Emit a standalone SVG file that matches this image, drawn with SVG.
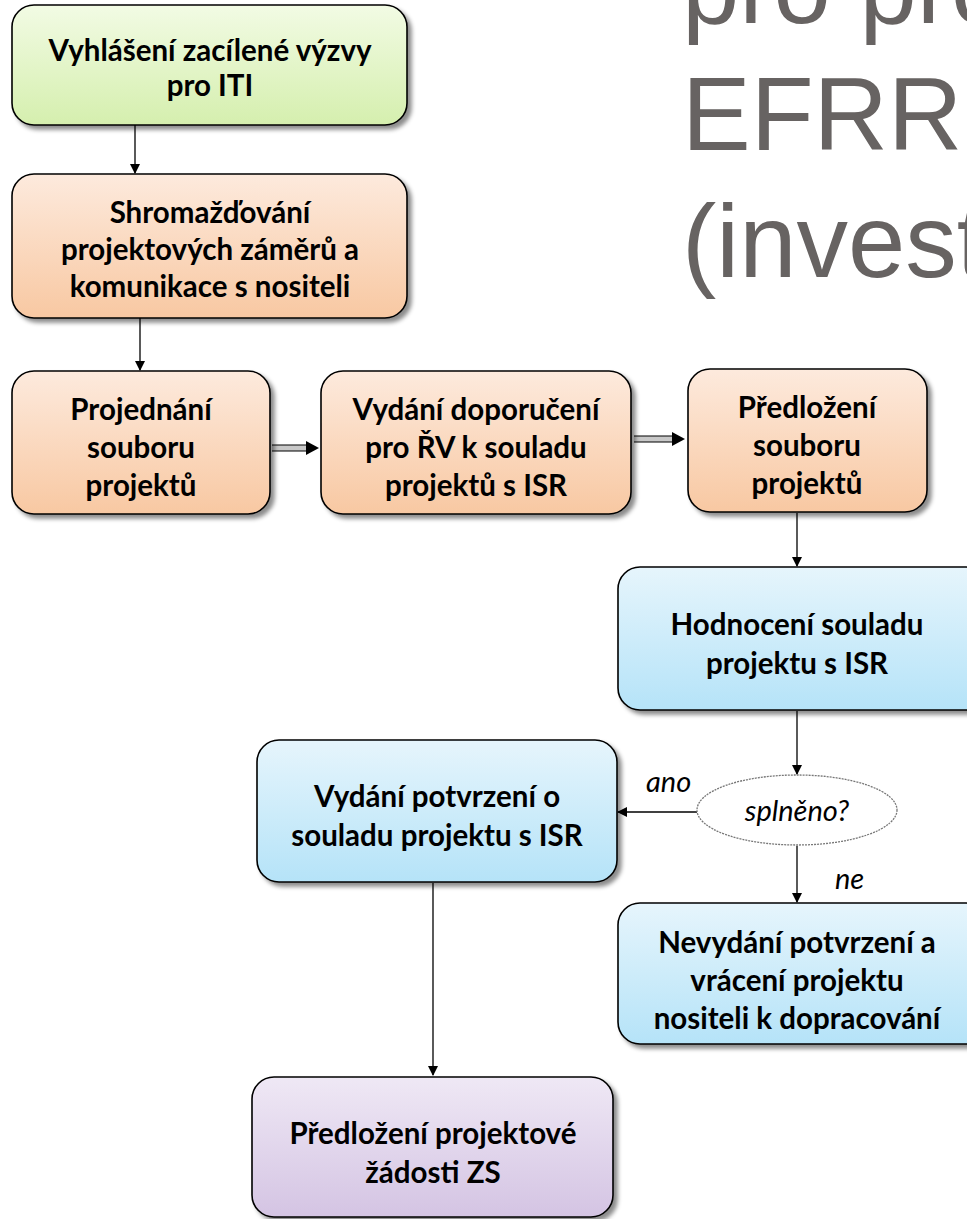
<svg xmlns="http://www.w3.org/2000/svg" width="967" height="1219" viewBox="0 0 967 1219">
<defs>
<linearGradient id="gG" x1="0" y1="0" x2="0" y2="1"><stop offset="0" stop-color="#f2fbe4"/><stop offset="1" stop-color="#d5efae"/></linearGradient>
<linearGradient id="gO" x1="0" y1="0" x2="0" y2="1"><stop offset="0" stop-color="#fdeadd"/><stop offset="1" stop-color="#f8c8a2"/></linearGradient>
<linearGradient id="gB" x1="0" y1="0" x2="0" y2="1"><stop offset="0" stop-color="#e6f5fc"/><stop offset="1" stop-color="#b5e3f8"/></linearGradient>
<linearGradient id="gP" x1="0" y1="0" x2="0" y2="1"><stop offset="0" stop-color="#efe8f5"/><stop offset="1" stop-color="#d4c4e3"/></linearGradient>
<filter id="sh" x="-10%" y="-10%" width="130%" height="130%"><feGaussianBlur in="SourceAlpha" stdDeviation="2"/><feOffset dx="4" dy="4" result="b"/><feFlood flood-color="#000" flood-opacity="0.45"/><feComposite in2="b" operator="in"/><feMerge><feMergeNode/><feMergeNode in="SourceGraphic"/></feMerge></filter>
<marker id="ah" markerWidth="10" markerHeight="10" refX="9" refY="5" orient="auto" markerUnits="userSpaceOnUse"><path d="M0,0 L10,5 L0,10 Z" fill="#000"/></marker>
</defs>
<style>
.box{stroke:#000;stroke-width:1.6;filter:url(#sh)}
.t{font-family:Lato,"Liberation Sans",sans-serif;font-weight:bold;font-size:29.5px;fill:#000;text-anchor:middle}
.lbl{font-family:Lato,"Liberation Sans",sans-serif;font-style:italic;font-size:29px;fill:#000}
.c{stroke:#000;stroke-width:1.3;fill:none}
.title{font-family:"Liberation Sans",Arial,sans-serif;font-size:103px;fill:#676362}
</style>
<g id="title">
<text class="title" x="682" y="23">pro pro</text>
<text class="title" x="682" y="150">EFRR</text>
<text class="title" x="682" y="277">(invest</text>
</g>
<g id="connectors">
<line class="c" x1="135" y1="125" x2="135" y2="173" marker-end="url(#ah)"/>
<line class="c" x1="140" y1="318" x2="140" y2="370" marker-end="url(#ah)"/>
<path d="M272,445 H308 V451 H272 Z" fill="#c8c8c8"/>
<line x1="272" y1="445" x2="310" y2="445" stroke="#000" stroke-width="1.2"/>
<line x1="272" y1="451" x2="310" y2="451" stroke="#000" stroke-width="1.2"/>
<path d="M306,441 L319,448 L306,455 Z" fill="#000"/>
<path d="M634,436 H674 V442 H634 Z" fill="#c8c8c8"/>
<line x1="634" y1="436" x2="676" y2="436" stroke="#000" stroke-width="1.2"/>
<line x1="634" y1="442" x2="676" y2="442" stroke="#000" stroke-width="1.2"/>
<path d="M672,432 L685,439 L672,446 Z" fill="#000"/>
<line class="c" x1="797" y1="513" x2="797" y2="566" marker-end="url(#ah)"/>
<line class="c" x1="797" y1="711" x2="797" y2="774" marker-end="url(#ah)"/>
<line class="c" x1="797" y1="846" x2="797" y2="902" marker-end="url(#ah)"/>
<line class="c" x1="697" y1="812" x2="618" y2="812" marker-end="url(#ah)"/>
<line class="c" x1="433" y1="883" x2="433" y2="1075" marker-end="url(#ah)"/>
<text class="lbl" x="646" y="792">ano</text>
<text class="lbl" x="835" y="889">ne</text>
</g>
<g id="n1"><rect class="box" x="12" y="5" width="395" height="120" rx="22" fill="url(#gG)"/>
<text class="t" x="210" y="61">Vyhlášení zacílené výzvy</text><text class="t" x="210" y="96">pro ITI</text></g>
<g id="n2"><rect class="box" x="12" y="174" width="395" height="144" rx="22" fill="url(#gO)"/>
<text class="t" x="210" y="223">Shromažďování</text><text class="t" x="210" y="260">projektových záměrů a</text><text class="t" x="210" y="297">komunikace s nositeli</text></g>
<g id="n3"><rect class="box" x="12" y="371" width="258" height="143" rx="22" fill="url(#gO)"/>
<text class="t" x="141" y="420">Projednání</text><text class="t" x="141" y="458">souboru</text><text class="t" x="141" y="496">projektů</text></g>
<g id="n4"><rect class="box" x="321" y="371" width="310" height="143" rx="22" fill="url(#gO)"/>
<text class="t" x="476" y="420">Vydání doporučení</text><text class="t" x="476" y="458">pro ŘV k souladu</text><text class="t" x="476" y="496">projektů s ISR</text></g>
<g id="n5"><rect class="box" x="688" y="369" width="239" height="143" rx="22" fill="url(#gO)"/>
<text class="t" x="807" y="418">Předložení</text><text class="t" x="807" y="456">souboru</text><text class="t" x="807" y="494">projektů</text></g>
<g id="n6"><rect class="box" x="618" y="567" width="370" height="143" rx="22" fill="url(#gB)"/>
<text class="t" x="797" y="635">Hodnocení souladu</text><text class="t" x="797" y="674">projektu s ISR</text></g>
<g id="n7"><ellipse cx="797" cy="810" rx="100" ry="35" fill="#fff" stroke="#777" stroke-width="1.3" stroke-dasharray="2 1"/>
<text class="lbl" x="797" y="821" text-anchor="middle">splněno?</text></g>
<g id="n8"><rect class="box" x="257" y="740" width="360" height="142" rx="22" fill="url(#gB)"/>
<text class="t" x="437" y="807">Vydání potvrzení o</text><text class="t" x="437" y="846">souladu projektu s ISR</text></g>
<g id="n9"><rect class="box" x="618" y="903" width="370" height="141" rx="22" fill="url(#gB)"/>
<text class="t" x="797" y="953">Nevydání potvrzení a</text><text class="t" x="797" y="991">vrácení projektu</text><text class="t" x="797" y="1029">nositeli k dopracování</text></g>
<g id="n10"><rect class="box" x="252" y="1077" width="361" height="140" rx="22" fill="url(#gP)"/>
<text class="t" x="433" y="1144">Předložení projektové</text><text class="t" x="433" y="1183">žádosti ZS</text></g>
</svg>
